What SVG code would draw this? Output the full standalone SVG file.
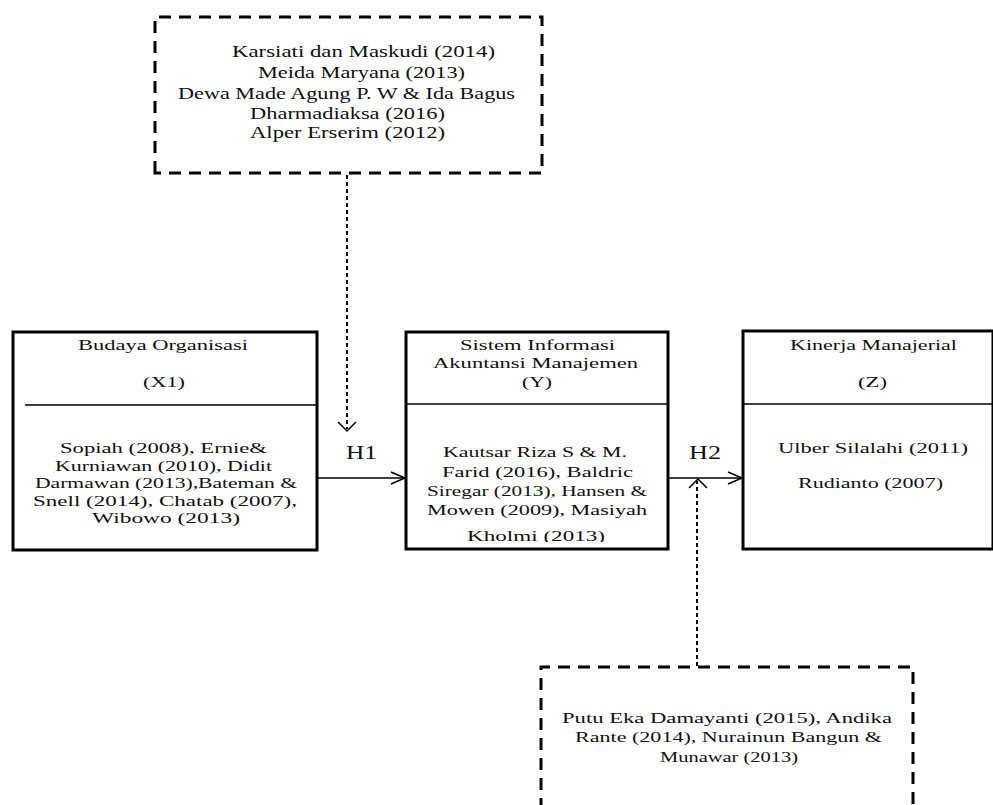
<svg xmlns="http://www.w3.org/2000/svg" width="993" height="805" viewBox="0 0 993 805" font-family="'Liberation Serif', 'DejaVu Serif', serif">
<style>
text{font-family:'Liberation Serif','DejaVu Serif',serif;fill:#111;}
.t{font-size:15px;}
.tt{font-size:16px;}
.h{font-size:18px;}
.box{fill:#fff;stroke:#000;stroke-width:3;}
.div{stroke:#000;stroke-width:1.5;}
.dbox{fill:none;stroke:#000;stroke-width:3;stroke-dasharray:12 8;}
.conn{fill:none;stroke:#000;stroke-width:1.3;}
.dconn{fill:none;stroke:#000;stroke-width:2;stroke-dasharray:4 3;}
.head{fill:none;stroke:#000;stroke-width:1.5;}
</style>
<defs>
<clipPath id="clipY"><rect x="406" y="332" width="262" height="210"/></clipPath>
</defs>
<rect width="993" height="805" fill="#fff"/>

<g id="refs-top">
<path class="dbox" d="M155,173 L155,17 L542,17 L542,173 Z"/>
<text class="tt" x="232" y="57" textLength="263" lengthAdjust="spacingAndGlyphs">Karsiati dan Maskudi (2014)</text>
<text class="tt" x="258" y="78" textLength="207" lengthAdjust="spacingAndGlyphs">Meida Maryana (2013)</text>
<text class="tt" x="178" y="99" textLength="337" lengthAdjust="spacingAndGlyphs">Dewa Made Agung P. W &amp; Ida Bagus</text>
<text class="tt" x="250" y="119" textLength="195" lengthAdjust="spacingAndGlyphs">Dharmadiaksa (2016)</text>
<text class="tt" x="250" y="138" textLength="195" lengthAdjust="spacingAndGlyphs">Alper Erserim (2012)</text>
</g>

<g id="node-x1">
<rect class="box" x="13" y="332" width="304" height="218"/>
<line class="div" x1="25" y1="405" x2="317" y2="405"/>
<text class="t" x="78" y="350" textLength="170" lengthAdjust="spacingAndGlyphs">Budaya Organisasi</text>
<text class="t" x="143" y="387" textLength="42" lengthAdjust="spacingAndGlyphs">(X1)</text>
<text class="t" x="60" y="453" textLength="207" lengthAdjust="spacingAndGlyphs">Sopiah (2008), Ernie&amp;</text>
<text class="t" x="55" y="471" textLength="217" lengthAdjust="spacingAndGlyphs">Kurniawan (2010), Didit</text>
<text class="t" x="35" y="488" textLength="262" lengthAdjust="spacingAndGlyphs">Darmawan (2013),Bateman &amp;</text>
<text class="t" x="33" y="506" textLength="264" lengthAdjust="spacingAndGlyphs">Snell (2014), Chatab (2007),</text>
<text class="t" x="92" y="523" textLength="148" lengthAdjust="spacingAndGlyphs">Wibowo (2013)</text>
</g>

<g id="node-y">
<rect class="box" x="406" y="332" width="262" height="217"/>
<line class="div" x1="406" y1="404" x2="668" y2="404"/>
<text class="t" x="460" y="350" textLength="155" lengthAdjust="spacingAndGlyphs">Sistem Informasi</text>
<text class="t" x="433" y="368" textLength="205" lengthAdjust="spacingAndGlyphs">Akuntansi Manajemen</text>
<text class="t" x="522" y="387" textLength="30" lengthAdjust="spacingAndGlyphs">(Y)</text>
<text class="t" x="443" y="457" textLength="184" lengthAdjust="spacingAndGlyphs">Kautsar Riza S &amp; M.</text>
<text class="t" x="442" y="477" textLength="191" lengthAdjust="spacingAndGlyphs">Farid (2016), Baldric</text>
<text class="t" x="427" y="496" textLength="220" lengthAdjust="spacingAndGlyphs">Siregar (2013), Hansen &amp;</text>
<text class="t" x="427" y="515" textLength="220" lengthAdjust="spacingAndGlyphs">Mowen (2009), Masiyah</text>
<text class="t" x="467" y="541" textLength="138" lengthAdjust="spacingAndGlyphs" clip-path="url(#clipY)">Kholmi (2013)</text>
</g>

<g id="node-z">
<rect class="box" x="743" y="331" width="250" height="218"/>
<line class="div" x1="743" y1="404" x2="993" y2="404"/>
<text class="t" x="790" y="350" textLength="167" lengthAdjust="spacingAndGlyphs">Kinerja Manajerial</text>
<text class="t" x="858" y="387" textLength="29" lengthAdjust="spacingAndGlyphs">(Z)</text>
<text class="t" x="778" y="453" textLength="190" lengthAdjust="spacingAndGlyphs">Ulber Silalahi (2011)</text>
<text class="t" x="798" y="488" textLength="145" lengthAdjust="spacingAndGlyphs">Rudianto (2007)</text>
</g>

<g id="refs-bottom">
<path class="dbox" d="M541,810 L541,667 L913,667 L913,810"/>
<text class="t" x="562" y="723" textLength="330" lengthAdjust="spacingAndGlyphs">Putu Eka Damayanti (2015), Andika</text>
<text class="t" x="575" y="742" textLength="307" lengthAdjust="spacingAndGlyphs">Rante (2014), Nurainun Bangun &amp;</text>
<text class="t" x="660" y="762" textLength="138" lengthAdjust="spacingAndGlyphs">Munawar (2013)</text>
</g>

<g id="connectors">
<line class="conn" x1="317" y1="478" x2="405" y2="478"/>
<polyline class="head" points="391,472 405,478 391,484"/>
<line class="conn" x1="668" y1="478" x2="742" y2="478"/>
<polyline class="head" points="728,472 742,478 728,484"/>
<line class="dconn" x1="347" y1="175" x2="347" y2="429"/>
<polyline class="head" points="338,422 347,431 356,422"/>
<line class="dconn" x1="697" y1="666" x2="697" y2="481"/>
<polyline class="head" points="689,488 698,479 707,488"/>
<text class="h" x="346" y="459" textLength="31" lengthAdjust="spacingAndGlyphs">H1</text>
<text class="h" x="689" y="459" textLength="32" lengthAdjust="spacingAndGlyphs">H2</text>
</g>
</svg>
